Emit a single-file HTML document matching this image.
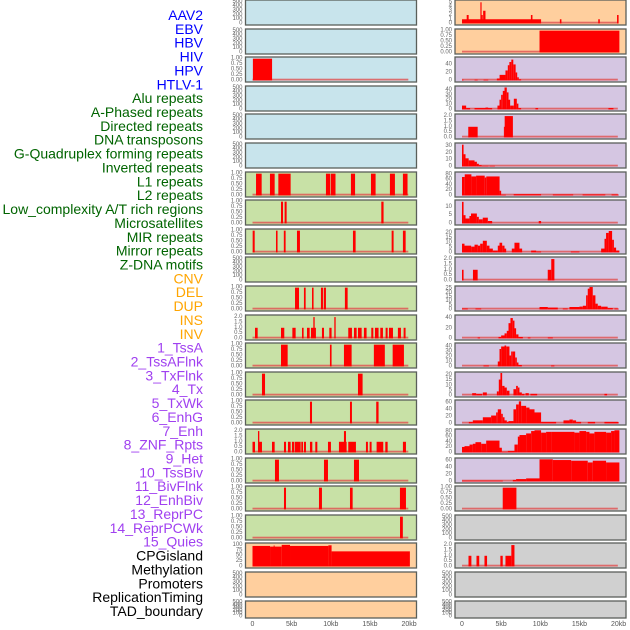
<!DOCTYPE html>
<html><head><meta charset="utf-8"><style>
html,body{margin:0;padding:0;background:#fff;}
svg{display:block;font-family:"Liberation Sans",sans-serif;}
</style></head><body>
<svg id="chart" width="630" height="630" viewBox="0 0 630 630" xmlns="http://www.w3.org/2000/svg">
<g id="labels"></g>
<g id="panels"></g>
<g id="xaxes"></g>
</svg>
<script>
const trackNames = ["AAV2","EBV","HBV","HIV","HPV","HTLV-1","Alu repeats","A-Phased repeats","Directed repeats","DNA transposons","G-Quadruplex forming repeats","Inverted repeats","L1 repeats","L2 repeats","Low_complexity A/T rich regions","Microsatellites","MIR repeats","Mirror repeats","Z-DNA motifs","CNV","DEL","DUP","INS","INV","1_TssA","2_TssAFlnk","3_TxFlnk","4_Tx","5_TxWk","6_EnhG","7_Enh","8_ZNF_Rpts","9_Het","10_TssBiv","11_BivFlnk","12_EnhBiv","13_ReprPC","14_ReprPCWk","15_Quies","CPGisland","Methylation","Promoters","ReplicationTiming","TAD_boundary"];
const trackGroups = ["v","v","v","v","v","v","r","r","r","r","r","r","r","r","r","r","r","r","r","s","s","s","s","s","c","c","c","c","c","c","c","c","c","c","c","c","c","c","c","o","o","o","o","o"];
const xTickValues = [0,5,10,15,20];
const xTickLabels = ["0","5kb","10kb","15kb","20kb"];

const T500=[0,100,200,300,400,500], TF=[0,0.25,0.5,0.75,1], T2=[0,0.5,1,1.5,2];
const leftTicks = [T500,T500,TF,T500,T500,T500,TF,TF,TF,T500,TF,T2,TF,TF,TF,T2,TF,TF,TF,[0,25,50,75,100],T500,T500];
const leftMax = [520,520,1.03,520,520,520,1.03,1.03,1.03,520,1.03,2.1,1.03,1.03,1.03,2.1,1.03,1.03,1.03,104,520,520];
const rightTicks = [[0,1,2,3,4,5],TF,[0,20,40],[0,10,20,30,40],T2,[0,10,20,30],[0,20,40,60,80],[0,5,10],[0,5,10,15,20],T2,[0,5,10,15,20,25],[0,20,40],[0,10,20,30,40],[0,5,10,15,20],[0,20,40,60],[0,20,40,60,80],[0,20,40,60],TF,T500,T2,T500,T500];
const rightMax = [5.3,1.03,56,46,2.1,33,85,13.5,23,2.1,27,44,45,22,65,85,65,1.03,520,2.1,520,520];

const L2=[[0.05,2.5,1]];
const L6=[[0.45,1.17,1],[2.23,2.83,1],[3.3,4.87,1],[9.38,9.9,1],[9.98,10.6,1],[12.57,13.1,1],[15.13,15.72,1],[17.55,18.19,1],[19.21,19.8,1]];
const L7=[[3.64,3.9,1],[4.1,4.36,1],[16.45,16.74,1]];
const L8=[[0.02,0.28,1],[3.0,3.2,1],[4.0,4.23,1],[5.68,6.06,1],[12.83,13.17,1],[17.77,18.02,1],[19.21,19.56,1]];
const L10=[[5.43,5.94,1],[6.57,6.79,1],[7.6,7.8,1],[8.74,9.0,1],[9.1,9.38,1],[11.8,12.15,1]];
const L11=[[0.32,0.66,1],[3.64,4.06,1],[5.09,5.51,1],[6.32,6.53,1],[6.96,7.3,1],[7.47,8.1,1],[7.77,7.94,2],[8.87,9.13,1],[9.81,10.1,1],[10.45,10.62,2],[12.23,12.7,1],[12.96,13.3,1],[13.47,13.94,1],[14.23,14.57,1],[15.17,15.43,1],[15.64,16.1,1],[16.32,16.66,1],[17.0,17.26,1],[17.43,17.94,1],[18.57,18.96,1],[19.3,19.55,1]];
const L12=[[3.64,4.49,1],[9.89,10.1,1],[11.68,12.66,1],[15.5,16.9,1],[17.9,19.34,1]];
const L13=[[1.21,1.6,1],[13.47,14.06,1]];
const L14=[[7.34,7.6,1],[12.45,12.7,1],[15.8,16.1,1]];
const L15=[[0,0.32,1],[0.74,1.21,1],[0.7,0.87,2],[2.49,2.83,1],[4.02,4.28,1],[4.53,4.87,1],[5.04,5.3,1],[5.38,6.15,1],[6.23,6.45,1],[6.57,6.83,1],[7.34,7.64,1],[8.02,8.28,1],[9.64,10.02,1],[11.04,12.02,1],[11.68,11.94,2],[12.23,13.21,1],[14.49,14.74,1],[14.96,15.21,1],[15.85,16.7,1],[16.96,17.26,1],[19.21,19.6,1]];
const L16=[[2.87,3.38,1],[9.13,9.64,1],[12.96,13.6,1]];
const L17=[[4.02,4.28,1],[8.49,8.87,1],[12.45,12.79,1],[18.83,19.6,1]];
const L18=[[18.84,19.2,1]];
const L19=[[0,2.24,95],[2.24,3.73,92],[2.7,2.8,97],[3.73,4.79,100],[4.79,9.69,95],[9.69,10.1,98],[10.1,20.1,70]];

const R0=[[0,10.1,1],[0.6,0.85,2],[2.35,2.5,5],[2.5,2.65,2],[2.7,3.0,3],[8.8,9.0,2],[12.5,12.7,1],[17.4,17.6,1],[19.8,20.0,2]];
const R1=[[9.9,20.1,1]];
const R2=[[0,0.2,2],[1.6,2.0,2],[2.75,3.35,2],[4.45,4.8,5],[4.8,5.55,14],[5.55,5.85,25],[5.85,6.05,38],[6.05,6.3,46],[6.3,6.55,52],[6.55,6.85,40],[6.85,7.05,20],[7.05,7.25,8],[7.25,7.55,3]];
const R3=[[0,0.53,8],[0.53,1.04,3],[1.6,3.85,3],[3.0,3.34,4],[4.53,4.79,8],[4.79,5.0,20],[5.0,5.21,30],[5.21,5.43,38],[5.43,5.72,45],[5.72,5.94,35],[5.94,6.15,20],[6.15,6.62,8],[6.62,7.0,22],[7.0,7.2,12],[7.2,7.55,3],[9.38,9.72,3],[18.7,19.34,3]];
const R4=[[0.8,2.0,1],[5.35,5.45,1],[5.45,6.5,2]];
const R5=[[0,0.2,32],[0.2,0.45,18],[0.45,0.85,12],[0.85,1.6,9],[1.6,1.9,7],[1.9,2.15,4],[2.15,2.5,2],[2.5,3.4,1],[3.5,4.2,1]];
const R6=[[0,0.35,70],[0.35,1.2,80],[1.2,1.8,72],[1.8,2.9,75],[2.9,3.1,68],[3.1,4.8,72],[4.8,5.0,18],[5.0,5.6,3],[6.6,10.1,5],[11.6,14.2,4],[15.4,18.3,4],[19.1,20.0,4]];
const R7=[[0,0.2,13],[0.2,0.45,5],[0.45,0.95,3],[0.95,1.15,4.5],[1.15,1.9,6],[1.9,2.15,4],[2.15,2.65,2.5],[2.65,3.3,3.5],[3.3,3.85,1.5],[9.8,10.1,1.5]];
const R8=[[0,0.32,9],[0.32,1.17,7],[1.17,1.6,6],[1.6,2.02,8],[2.02,2.32,7],[2.32,2.66,9],[2.66,3.17,12],[3.17,3.51,7],[3.51,3.94,4],[3.94,4.57,2],[4.57,4.79,7],[4.79,5.13,10],[5.13,5.43,7],[5.43,5.64,4],[6.36,6.7,4],[6.7,7.34,10],[7.34,7.68,4],[8.83,9.47,2],[9.47,10.1,1],[13.9,15.0,1],[17.77,18.2,4],[18.2,18.4,14],[18.4,18.74,20],[18.74,19.17,22],[19.17,19.4,13],[19.4,19.68,5],[19.68,20.1,2]];
const R9=[[0,0.2,1],[1.4,2.0,1],[10.95,11.4,1],[11.4,11.8,2]];
const R10=[[0,0.74,1.2],[1.72,2.45,1.2],[9.9,10.96,3],[10.96,12.23,2.3],[12.87,13.5,1.2],[13.72,15.0,3],[15.0,15.43,3.5],[15.43,15.85,4.5],[15.85,16.06,17],[16.06,16.28,25],[16.28,16.7,27],[16.7,17.04,17],[17.04,17.34,7],[17.34,17.77,4.5],[17.77,18.6,3.4],[18.6,19.26,1.7],[19.47,20.0,1.2]];
const R11=[[2.0,2.3,2],[4.66,5.0,3],[5.0,5.43,6],[5.43,5.72,10],[5.72,5.94,15],[5.94,6.19,30],[6.19,6.49,40],[6.49,6.7,35],[6.7,6.91,20],[6.91,7.21,8],[7.21,7.77,3],[8.4,8.74,2],[10.96,11.6,2]];
const R12=[[2.74,3.43,2],[4.57,4.79,10],[4.79,5.0,35],[5.0,5.43,40],[5.43,5.64,42],[5.64,6.06,40],[6.06,6.28,22],[6.28,6.49,30],[6.49,6.79,30],[6.79,7.0,18],[7.0,7.21,8],[7.21,7.64,3],[11.38,11.8,2]];
const R13=[[1.3,1.81,2.3],[1.81,2.57,1.6],[2.66,3.17,3],[4.45,4.7,4],[4.7,4.91,15.6],[4.91,5.13,22],[5.13,5.43,9.4],[5.43,5.72,7.8],[5.72,6.06,4.7],[6.57,6.91,6.2],[6.91,7.13,9.4],[7.13,7.34,7.8],[7.34,7.64,3],[7.64,7.98,1.6],[8.11,8.53,2.3],[8.74,9.6,1.6],[18.19,18.53,1.6]];
const R14=[[0.87,1.38,4.6],[1.38,2.66,9.2],[2.66,3.72,18],[3.72,4.36,23],[4.36,4.57,32],[4.57,5.0,41],[5.0,5.21,28],[5.21,5.43,18],[5.43,5.72,9],[5.72,5.94,4.6],[5.94,6.57,7],[6.57,6.91,41],[6.91,7.26,55],[7.26,7.55,64],[7.55,8.19,51],[8.19,8.62,46],[8.62,9.26,41],[9.26,10.1,32],[10.1,12.02,4.6],[12.96,13.72,9],[13.72,14.15,11.5],[14.15,14.57,9],[14.57,15.21,4.6],[16.06,17.0,4.6],[18.19,20.0,4.6]];
const R15=[[0,0.32,21],[0.32,0.96,24],[0.96,1.38,30],[1.38,1.72,33],[1.72,2.45,39],[2.45,3.09,33],[3.09,4.79,45],[4.79,5.09,18],[5.09,5.85,3],[5.85,6.7,6],[6.7,7.13,30],[7.13,7.34,60],[7.34,8.19,66],[8.19,8.83,72],[8.83,9.26,81],[9.26,10.1,84],[10.1,10.74,75],[10.74,11.38,78],[11.38,14.36,78],[14.36,15.0,75],[15.0,15.85,81],[15.85,16.28,78],[16.28,16.91,72],[16.91,18.4,78],[18.4,19.04,75],[19.04,19.47,81],[19.47,20.1,84]];
const R16=[[0,5.21,2.5],[6.49,6.91,4.6],[6.91,8.19,7],[8.19,9.9,9],[9.9,11.6,64],[11.6,13.94,62],[13.94,16.06,60],[16.06,16.7,55],[16.7,18.4,60],[18.4,20.1,55]];
const R17=[[5.2,6.95,1]];
const R19=[[0.83,1.2,1],[1.85,2.2,1],[2.87,3.2,1],[4.9,5.2,1],[5.55,6.3,1],[6.3,6.7,2]];

const leftData = [null,null,L2,null,null,null,L6,L7,L8,null,L10,L11,L12,L13,L14,L15,L16,L17,L18,L19,null,null];
const rightData = [R0,R1,R2,R3,R4,R5,R6,R7,R8,R9,R10,R11,R12,R13,R14,R15,R16,R17,null,R19,null,null];

const NS="http://www.w3.org/2000/svg";
const groupColor={v:"#0000ff",r:"#006400",s:"#ffa500",c:"#a040f0",o:"#000000"};
function mk(tag,attrs,parent){const e=document.createElementNS(NS,tag);for(const k in attrs)e.setAttribute(k,attrs[k]);parent.appendChild(e);return e;}

const labG=document.getElementById("labels");
trackNames.forEach((n,i)=>{
  const t=mk("text",{x:203,y:15+i*13.86,"text-anchor":"end","dominant-baseline":"central","font-size":"14",fill:groupColor[trackGroups[i]]},labG);
  t.textContent=n;
  
  
});

const cols=[{x0:245.5,w:171,ticks:leftTicks,max:leftMax,data:leftData,name:"left"},
            {x0:455,w:171,ticks:rightTicks,max:rightMax,data:rightData,name:"right"}];
function xScale(col,kb){return col.x0+7+kb*7.83;}
function leftBg(i){return i<6?"#c8e4ec":(i<19?"#c8e1a6":"#ffcf9e");}
function rightBg(i){return i<2?"#ffcf9e":(i<17?"#d5c6e2":"#d0d0d0");}
const panG=document.getElementById("panels");
cols.forEach((col,ci)=>{
  for(let i=0;i<22;i++){
    const top=Math.round(i*28.6), h=(i===21?17:25);
    const g=mk("g",{},panG);
    
    
    mk("rect",{x:col.x0,y:top,width:col.w,height:h,fill:ci===0?leftBg(i):rightBg(i)},g);
    const bottom=top+h-1.5, ph=h-2.5, ymax=col.max[i];
    const y=v=>bottom-v/ymax*ph;
    col.ticks[i].forEach(t=>{
      const tx=mk("text",{x:col.x0-3,y:y(t),"text-anchor":"end","dominant-baseline":"central","font-size":"6",fill:"#666"},g);
      tx.textContent=(col.ticks[i]===TF?t.toFixed(2):(col.ticks[i]===T2?t.toFixed(1):String(t)));
      
      
    });
    const d=col.data[i];
    if(d){
      const base=mk("rect",{x:xScale(col,0),y:bottom-1.8,width:xScale(col,19.9)-xScale(col,0),height:1.8,fill:"#e05050",opacity:0.8},g);
      
      
      d.forEach(b=>{
        const yv=Math.max(top,y(b[2]));
        const r=mk("rect",{x:xScale(col,b[0]),y:yv,width:Math.max(1,xScale(col,b[1])-xScale(col,b[0])),height:bottom-yv,fill:"#ff0000"},g);
        
        
      });
    }
    const fr=mk("rect",{x:col.x0,y:top,width:col.w,height:h,fill:"none",stroke:"#5a5f5a","stroke-width":1.3},g);
    
    
  }
});

const xG=document.getElementById("xaxes");
cols.forEach(col=>{
  xTickValues.forEach((v,j)=>{
    const t=mk("text",{x:xScale(col,v),y:626,"text-anchor":"middle","font-size":"7",fill:"#555"},xG);
    t.textContent=xTickLabels[j];
    
    
  });
});
</script>
</body></html>
